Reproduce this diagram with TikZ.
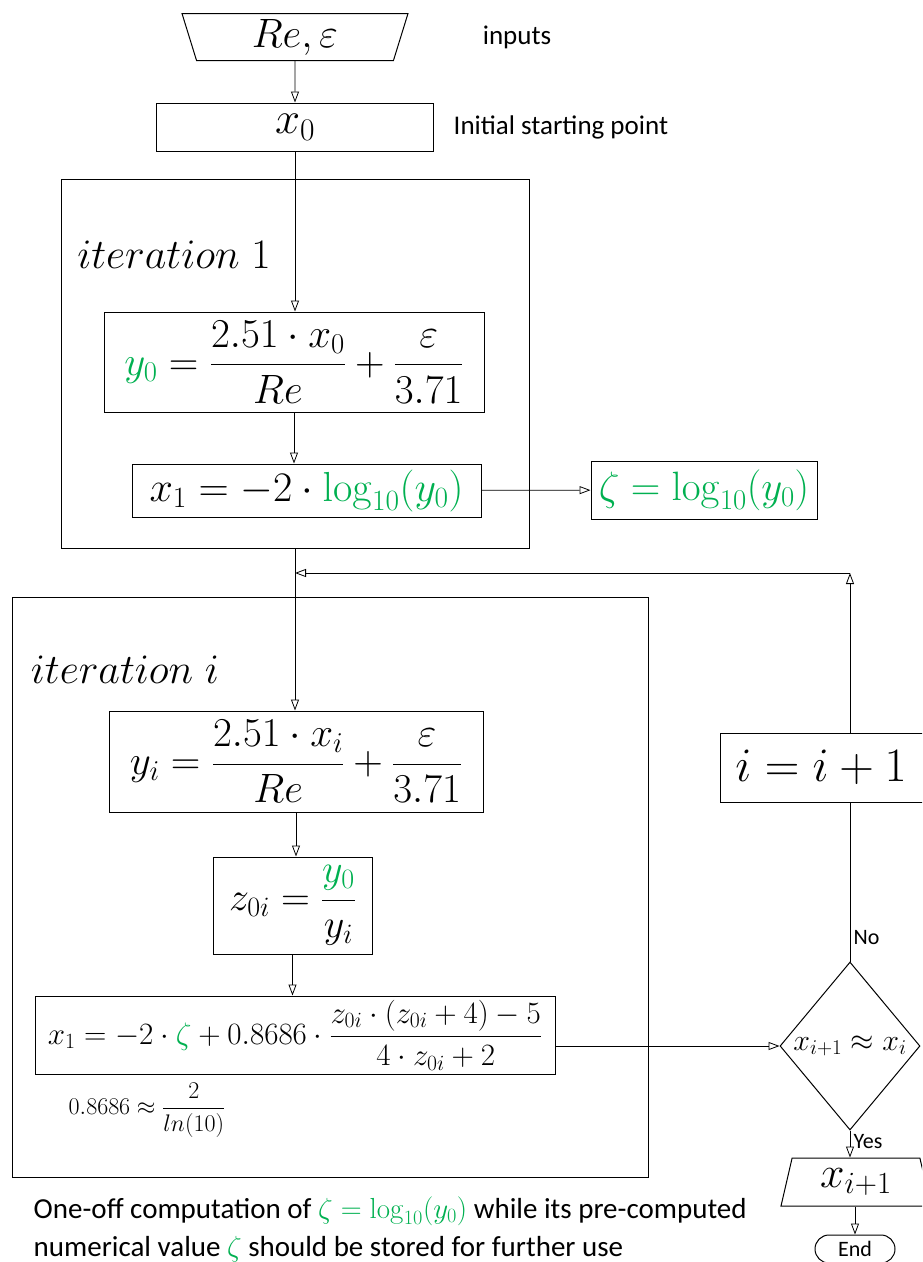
\RequirePackage{fix-cm}
\documentclass[tikz,border=0pt]{standalone}
\usepackage{amsmath}
\usepackage[no-math]{fontspec}
\setmainfont{Carlito}
\usetikzlibrary{arrows.meta,shapes.geometric,calc}
\usepackage{xcolor}
\definecolor{zgreen}{RGB}{0,176,80}
\newcommand{\fsz}[1]{\fontsize{#1}{#1}\selectfont}

\begin{document}
\begin{tikzpicture}[
    x=1pt, y=-1pt,
    box/.style={draw, line width=1pt, inner sep=0pt, align=center},
    frame/.style={draw, line width=1pt, inner sep=0pt},
    inout/.style={draw, line width=1pt, trapezium, trapezium stretches body, inner sep=0pt,
      trapezium left angle=68, trapezium right angle=68},
    decision/.style={draw, line width=1pt, diamond, inner sep=0pt, aspect=0.83},
    stop/.style={draw, line width=1pt, rounded corners=14pt, inner sep=0pt},
    lbl/.style={font=\fsz{27}},
    >={Triangle[open, length=11pt, width=8pt]}, line width=0.8pt
  ]
  \useasboundingbox (0,0) rectangle (922,1262);
  \clip (0,0) rectangle (922,1262);

  % outer frames
  \node[frame, minimum width=468pt, minimum height=369pt] (it1) at (295,363.5) {};
  \node[frame, minimum width=636pt, minimum height=580pt] (iti) at (330,887) {};
  \node[font=\fsz{42}] (it1lbl) at (174,255) {$iteration\;1$};
  \node[font=\fsz{42}] (itilbl) at (125,670) {$iteration\;i$};

  % start
  \node[inout, shape border rotate=180, minimum width=226pt, minimum height=47pt,
        font=\fsz{41}] (inp) at (295,37) {$Re,\varepsilon$};
  \node[lbl] (inplbl) at (517,37) {inputs};
  \node[box, minimum width=277pt, minimum height=48pt, font=\fsz{45}] (x0) at (295,127) {$x_0$};
  \node[lbl, anchor=west] (x0lbl) at (450,127) {Initial starting point};

  % iteration 1
  \node[box, minimum width=380pt, minimum height=100pt, font=\fsz{41}] (y0) at (294,362)
    {$\displaystyle {\color{zgreen}y_0} = \frac{2.51\cdot x_0}{Re}+\frac{\varepsilon}{3.71}$};
  \node[box, minimum width=349pt, minimum height=53pt, font=\fsz{42}] (x1a) at (306.5,490.5)
    {$x_1 = -2\cdot {\color{zgreen}\log_{10}(y_0)}$};
  \node[box, minimum width=226pt, minimum height=58pt, font=\fsz{41}] (zeta) at (704,490)
    {${\color{zgreen}\zeta = \log_{10}(y_0)}$};

  % iteration i
  \node[box, minimum width=374pt, minimum height=101pt, font=\fsz{41}] (yi) at (296,761.5)
    {$\displaystyle y_i = \frac{2.51\cdot x_i}{Re}+\frac{\varepsilon}{3.71}$};
  \node[box, minimum width=159pt, minimum height=97pt, font=\fsz{40}] (z0i) at (292.5,905.5)
    {$\displaystyle z_{0i} = \frac{\color{zgreen}y_0}{y_i}$};
  \node[box, minimum width=520pt, minimum height=78pt, font=\fsz{31}] (x1b) at (295,1035)
    {$\displaystyle x_1 = -2\cdot{\color{zgreen}\zeta}+0.8686\cdot\frac{z_{0i}\cdot(z_{0i}+4)-5}{4\cdot z_{0i}+2}$};
  \node[font=\fsz{24}] (note) at (147,1110) {$\displaystyle 0.8686\approx\frac{2}{ln(10)}$};

  % loop and exit
  \node[box, minimum width=260pt, minimum height=69pt] (inc) at (850,767.5) {};
  \node[font=\fsz{48}, anchor=west, inner sep=0pt] (inctxt) at (735,767.5) {$i=i+1$};
  \node[decision, minimum width=140pt, minimum height=168pt] (dec) at (850,1046) {};
  \node[font=\fsz{30}] (dectxt) at (dec) {$x_{i+1}\approx x_i$};
  \node[inout, minimum width=150pt, minimum height=48pt, font=\fsz{44}] (out) at (856,1182) {$x_{i+1}$};
  \node[stop, minimum width=80pt, minimum height=28pt, font=\fsz{22}] (end) at (855,1249) {End};
  \coordinate (corner) at (850,573);
  \coordinate (join) at (295,573);

  % bottom remark
  \node[anchor=west, font=\fsz{29}] (rem1) at (30,1211)
    {One-off computation of ${\color{zgreen}\zeta=\log_{10}(y_0)}$ while its pre-computed};
  \node[anchor=west, font=\fsz{29}] (rem2) at (30,1249)
    {numerical value ${\color{zgreen}\zeta}$ should be stored for further use};

  \draw[->] (inp) -- (x0);
  \draw[->] (x0) -- (x0 |- y0.north);
  \draw[->] (y0.south) -- (y0.south |- x1a.north);
  \draw[->] (x1a) -- (zeta);
  \draw[->] (it1.south) -- (it1.south |- yi.north);
  \draw[->] (yi.south) -- (yi.south |- z0i.north);
  \draw[->] (z0i) -- (z0i.south |- x1b.north);
  \draw[->] (x1b.east |- dec) -- (dec);
  \draw (dec) -- node[pos=0.15, right, font=\fsz{22}] {No} (inc);
  \draw[->] (inc) -- (corner);
  \draw[->] (corner) -- (join);
  \draw[->] (dec.south) -- node[pos=0.42, right, font=\fsz{22}] {Yes} (dec.south |- out.north);
  \draw[->] (out.south -| end) -- (end);
\end{tikzpicture}
\end{document}
